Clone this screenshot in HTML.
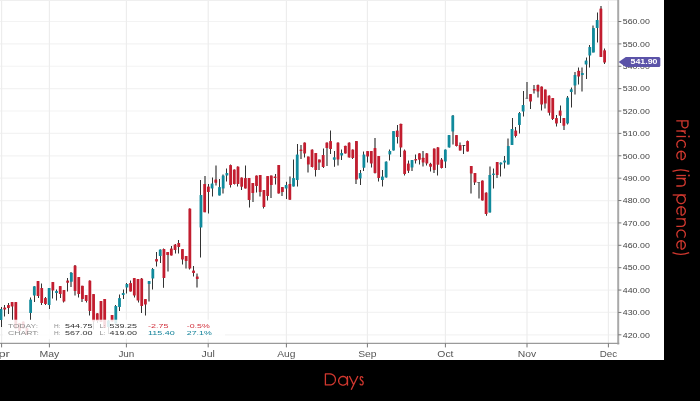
<!DOCTYPE html>
<html><head><meta charset="utf-8"><title>Chart</title>
<style>
html,body{margin:0;padding:0;background:#000;}
body{width:700px;height:401px;position:relative;overflow:hidden;font-family:"Liberation Sans",sans-serif;}
svg text{font-family:"Liberation Sans",sans-serif;}
.ax{font-size:6.3px;fill:#444;}
.mo{font-size:8.5px;fill:#555;}
.mk{font-size:6.4px;fill:#fff;font-weight:bold;}
.lb{font-size:6.2px;fill:#8e8e8e;}
.vl{font-size:6.2px;fill:#333;}
</style></head><body>
<svg width="664" height="360" viewBox="0 0 664 360" style="position:absolute;left:0;top:0;will-change:transform">
<rect width="664" height="360" fill="#fff"/>
<line x1="0" x2="618.2" y1="334.82" y2="334.82" stroke="#f3f3f3" stroke-width="1.2"/>
<line x1="0" x2="618.2" y1="312.44" y2="312.44" stroke="#f3f3f3" stroke-width="1.2"/>
<line x1="0" x2="618.2" y1="290.06" y2="290.06" stroke="#f3f3f3" stroke-width="1.2"/>
<line x1="0" x2="618.2" y1="267.68" y2="267.68" stroke="#f3f3f3" stroke-width="1.2"/>
<line x1="0" x2="618.2" y1="245.30" y2="245.30" stroke="#f3f3f3" stroke-width="1.2"/>
<line x1="0" x2="618.2" y1="222.92" y2="222.92" stroke="#f3f3f3" stroke-width="1.2"/>
<line x1="0" x2="618.2" y1="200.54" y2="200.54" stroke="#f3f3f3" stroke-width="1.2"/>
<line x1="0" x2="618.2" y1="178.16" y2="178.16" stroke="#f3f3f3" stroke-width="1.2"/>
<line x1="0" x2="618.2" y1="155.78" y2="155.78" stroke="#f3f3f3" stroke-width="1.2"/>
<line x1="0" x2="618.2" y1="133.40" y2="133.40" stroke="#f3f3f3" stroke-width="1.2"/>
<line x1="0" x2="618.2" y1="111.02" y2="111.02" stroke="#f3f3f3" stroke-width="1.2"/>
<line x1="0" x2="618.2" y1="88.64" y2="88.64" stroke="#f3f3f3" stroke-width="1.2"/>
<line x1="0" x2="618.2" y1="66.26" y2="66.26" stroke="#f3f3f3" stroke-width="1.2"/>
<line x1="0" x2="618.2" y1="43.88" y2="43.88" stroke="#f3f3f3" stroke-width="1.2"/>
<line x1="0" x2="618.2" y1="21.50" y2="21.50" stroke="#f3f3f3" stroke-width="1.2"/>
<line x1="0" x2="618.2" y1="-0.88" y2="-0.88" stroke="#f3f3f3" stroke-width="1.2"/>
<line x1="1.6" x2="1.6" y1="0" y2="343.4" stroke="#ededed" stroke-width="1.2"/>
<line x1="49.4" x2="49.4" y1="0" y2="343.4" stroke="#ededed" stroke-width="1.2"/>
<line x1="126.4" x2="126.4" y1="0" y2="343.4" stroke="#ededed" stroke-width="1.2"/>
<line x1="208.2" x2="208.2" y1="0" y2="343.4" stroke="#ededed" stroke-width="1.2"/>
<line x1="286.4" x2="286.4" y1="0" y2="343.4" stroke="#ededed" stroke-width="1.2"/>
<line x1="367.4" x2="367.4" y1="0" y2="343.4" stroke="#ededed" stroke-width="1.2"/>
<line x1="445.4" x2="445.4" y1="0" y2="343.4" stroke="#ededed" stroke-width="1.2"/>
<line x1="527" x2="527" y1="0" y2="343.4" stroke="#ededed" stroke-width="1.2"/>
<line x1="608.4" x2="608.4" y1="0" y2="343.4" stroke="#ededed" stroke-width="1.2"/>
<line x1="0" x2="618.2" y1="0.5" y2="0.5" stroke="#efefef" stroke-width="1"/>
<line x1="1.50" x2="1.50" y1="307.0" y2="327.0" stroke="#333" stroke-width="1"/>
<rect x="-0.40" y="309.0" width="2.8" height="11.00" rx="0.5" fill="#108a9c"/>
<line x1="4.50" x2="4.50" y1="305.0" y2="316.5" stroke="#333" stroke-width="1"/>
<rect x="3.30" y="307.5" width="2.8" height="2.00" rx="0.5" fill="#c21d2f"/>
<line x1="8.50" x2="8.50" y1="303.0" y2="314.0" stroke="#333" stroke-width="1"/>
<rect x="7.01" y="305.0" width="2.8" height="3.00" rx="0.5" fill="#c21d2f"/>
<line x1="12.50" x2="12.50" y1="302.0" y2="320.0" stroke="#333" stroke-width="1"/>
<rect x="10.71" y="302.0" width="2.8" height="4.50" rx="0.5" fill="#c21d2f"/>
<line x1="15.50" x2="15.50" y1="302.0" y2="328.5" stroke="#333" stroke-width="1"/>
<rect x="14.41" y="302.0" width="2.8" height="26.50" rx="0.5" fill="#c21d2f"/>
<line x1="19.50" x2="19.50" y1="323.0" y2="331.0" stroke="#333" stroke-width="1"/>
<rect x="18.12" y="323.0" width="2.8" height="8.00" rx="0.5" fill="#c21d2f"/>
<line x1="23.50" x2="23.50" y1="321.5" y2="328.5" stroke="#333" stroke-width="1"/>
<rect x="21.82" y="321.5" width="2.8" height="7.00" rx="0.5" fill="#c21d2f"/>
<line x1="26.50" x2="26.50" y1="328.0" y2="335.0" stroke="#333" stroke-width="1"/>
<rect x="25.52" y="328.0" width="2.8" height="7.00" rx="0.5" fill="#c21d2f"/>
<line x1="30.50" x2="30.50" y1="297.5" y2="320.0" stroke="#333" stroke-width="1"/>
<rect x="29.22" y="299.5" width="2.8" height="13.50" rx="0.5" fill="#108a9c"/>
<line x1="34.50" x2="34.50" y1="286.2" y2="302.0" stroke="#333" stroke-width="1"/>
<rect x="32.93" y="286.2" width="2.8" height="9.30" rx="0.5" fill="#108a9c"/>
<line x1="38.50" x2="38.50" y1="281.0" y2="298.0" stroke="#333" stroke-width="1"/>
<rect x="36.63" y="281.0" width="2.8" height="15.00" rx="0.5" fill="#c21d2f"/>
<line x1="41.50" x2="41.50" y1="283.5" y2="305.0" stroke="#333" stroke-width="1"/>
<rect x="40.33" y="288.0" width="2.8" height="15.00" rx="0.5" fill="#c21d2f"/>
<line x1="45.50" x2="45.50" y1="297.0" y2="305.0" stroke="#333" stroke-width="1"/>
<rect x="44.04" y="298.0" width="2.8" height="6.00" rx="0.5" fill="#c21d2f"/>
<line x1="49.50" x2="49.50" y1="288.0" y2="309.0" stroke="#333" stroke-width="1"/>
<rect x="47.74" y="288.0" width="2.8" height="17.00" rx="0.5" fill="#108a9c"/>
<line x1="52.50" x2="52.50" y1="282.0" y2="298.5" stroke="#333" stroke-width="1"/>
<rect x="51.44" y="282.0" width="2.8" height="8.50" rx="0.5" fill="#c21d2f"/>
<line x1="56.50" x2="56.50" y1="289.5" y2="300.5" stroke="#333" stroke-width="1"/>
<rect x="55.14" y="291.0" width="2.8" height="2.00" rx="0.5" fill="#108a9c"/>
<line x1="60.50" x2="60.50" y1="286.0" y2="298.0" stroke="#333" stroke-width="1"/>
<rect x="58.85" y="286.0" width="2.8" height="8.00" rx="0.5" fill="#c21d2f"/>
<line x1="63.50" x2="63.50" y1="290.0" y2="302.5" stroke="#333" stroke-width="1"/>
<rect x="62.55" y="290.0" width="2.8" height="11.50" rx="0.5" fill="#c21d2f"/>
<line x1="67.50" x2="67.50" y1="278.0" y2="291.5" stroke="#333" stroke-width="1"/>
<rect x="66.25" y="280.5" width="2.8" height="2.30" rx="0.5" fill="#c21d2f"/>
<line x1="71.00" x2="71.00" y1="272.0" y2="287.0" stroke="#6a6a6a" stroke-width="1.6"/>
<rect x="69.96" y="272.8" width="2.8" height="9.00" rx="0.5" fill="#108a9c"/>
<line x1="75.00" x2="75.00" y1="265.0" y2="295.5" stroke="#6a6a6a" stroke-width="1.6"/>
<rect x="73.66" y="265.5" width="2.8" height="25.50" rx="0.5" fill="#c21d2f"/>
<line x1="78.50" x2="78.50" y1="277.0" y2="297.5" stroke="#333" stroke-width="1"/>
<rect x="77.36" y="277.0" width="2.8" height="17.00" rx="0.5" fill="#c21d2f"/>
<line x1="82.00" x2="82.00" y1="285.8" y2="302.0" stroke="#6a6a6a" stroke-width="1.6"/>
<rect x="81.07" y="285.8" width="2.8" height="13.20" rx="0.5" fill="#c21d2f"/>
<line x1="86.50" x2="86.50" y1="295.0" y2="302.5" stroke="#333" stroke-width="1"/>
<rect x="84.77" y="295.0" width="2.8" height="6.00" rx="0.5" fill="#c21d2f"/>
<line x1="89.50" x2="89.50" y1="280.5" y2="315.5" stroke="#333" stroke-width="1"/>
<rect x="88.47" y="280.5" width="2.8" height="30.50" rx="0.5" fill="#c21d2f"/>
<line x1="93.50" x2="93.50" y1="294.0" y2="329.5" stroke="#333" stroke-width="1"/>
<rect x="92.17" y="294.0" width="2.8" height="27.50" rx="0.5" fill="#c21d2f"/>
<line x1="97.50" x2="97.50" y1="313.2" y2="323.0" stroke="#333" stroke-width="1"/>
<rect x="95.88" y="313.2" width="2.8" height="7.80" rx="0.5" fill="#c21d2f"/>
<line x1="100.50" x2="100.50" y1="301.0" y2="322.0" stroke="#333" stroke-width="1"/>
<rect x="99.58" y="301.0" width="2.8" height="21.00" rx="0.5" fill="#c21d2f"/>
<line x1="104.50" x2="104.50" y1="299.0" y2="328.0" stroke="#333" stroke-width="1"/>
<rect x="103.28" y="299.0" width="2.8" height="29.00" rx="0.5" fill="#c21d2f"/>
<line x1="108.50" x2="108.50" y1="320.0" y2="334.0" stroke="#333" stroke-width="1"/>
<rect x="106.99" y="320.5" width="2.8" height="6.50" rx="0.5" fill="#108a9c"/>
<line x1="112.50" x2="112.50" y1="315.0" y2="321.5" stroke="#333" stroke-width="1"/>
<rect x="110.69" y="315.0" width="2.8" height="6.50" rx="0.5" fill="#c21d2f"/>
<line x1="115.50" x2="115.50" y1="305.0" y2="323.5" stroke="#333" stroke-width="1"/>
<rect x="114.39" y="306.0" width="2.8" height="17.50" rx="0.5" fill="#108a9c"/>
<line x1="119.50" x2="119.50" y1="294.5" y2="311.0" stroke="#333" stroke-width="1"/>
<rect x="118.10" y="298.0" width="2.8" height="9.00" rx="0.5" fill="#108a9c"/>
<line x1="123.50" x2="123.50" y1="289.5" y2="299.0" stroke="#333" stroke-width="1"/>
<rect x="121.80" y="293.0" width="2.8" height="2.00" rx="0.5" fill="#108a9c"/>
<line x1="126.50" x2="126.50" y1="283.0" y2="293.5" stroke="#333" stroke-width="1"/>
<rect x="125.50" y="284.0" width="2.8" height="3.50" rx="0.5" fill="#108a9c"/>
<line x1="130.50" x2="130.50" y1="280.5" y2="291.5" stroke="#333" stroke-width="1"/>
<rect x="129.20" y="283.0" width="2.8" height="8.50" rx="0.5" fill="#c21d2f"/>
<line x1="134.50" x2="134.50" y1="278.0" y2="297.5" stroke="#333" stroke-width="1"/>
<rect x="132.91" y="278.0" width="2.8" height="17.50" rx="0.5" fill="#c21d2f"/>
<line x1="138.50" x2="138.50" y1="279.0" y2="302.5" stroke="#333" stroke-width="1"/>
<rect x="136.61" y="279.0" width="2.8" height="21.50" rx="0.5" fill="#c21d2f"/>
<line x1="141.50" x2="141.50" y1="278.0" y2="313.0" stroke="#333" stroke-width="1"/>
<rect x="140.31" y="278.5" width="2.8" height="27.50" rx="0.5" fill="#c21d2f"/>
<line x1="145.50" x2="145.50" y1="299.0" y2="315.5" stroke="#333" stroke-width="1"/>
<rect x="144.02" y="299.0" width="2.8" height="5.50" rx="0.5" fill="#c21d2f"/>
<line x1="149.00" x2="149.00" y1="281.0" y2="301.5" stroke="#6a6a6a" stroke-width="1.6"/>
<rect x="147.72" y="281.0" width="2.8" height="3.00" rx="0.5" fill="#108a9c"/>
<line x1="152.50" x2="152.50" y1="268.0" y2="289.5" stroke="#333" stroke-width="1"/>
<rect x="151.42" y="269.0" width="2.8" height="9.50" rx="0.5" fill="#108a9c"/>
<line x1="156.50" x2="156.50" y1="252.0" y2="266.5" stroke="#333" stroke-width="1"/>
<rect x="155.13" y="259.0" width="2.8" height="2.50" rx="0.5" fill="#c21d2f"/>
<line x1="160.50" x2="160.50" y1="249.5" y2="263.0" stroke="#333" stroke-width="1"/>
<rect x="158.83" y="249.5" width="2.8" height="6.50" rx="0.5" fill="#108a9c"/>
<line x1="163.50" x2="163.50" y1="248.5" y2="287.8" stroke="#333" stroke-width="1"/>
<rect x="162.53" y="249.0" width="2.8" height="29.00" rx="0.5" fill="#c21d2f"/>
<line x1="168.00" x2="168.00" y1="252.0" y2="271.5" stroke="#6a6a6a" stroke-width="1.6"/>
<rect x="166.23" y="252.0" width="2.8" height="3.00" rx="0.5" fill="#c21d2f"/>
<line x1="171.50" x2="171.50" y1="246.0" y2="255.5" stroke="#333" stroke-width="1"/>
<rect x="169.94" y="248.5" width="2.8" height="7.00" rx="0.5" fill="#c21d2f"/>
<line x1="175.50" x2="175.50" y1="244.0" y2="253.5" stroke="#333" stroke-width="1"/>
<rect x="173.64" y="244.5" width="2.8" height="5.50" rx="0.5" fill="#c21d2f"/>
<line x1="178.50" x2="178.50" y1="240.0" y2="253.5" stroke="#333" stroke-width="1"/>
<rect x="177.34" y="243.0" width="2.8" height="4.00" rx="0.5" fill="#c21d2f"/>
<line x1="182.50" x2="182.50" y1="249.0" y2="264.5" stroke="#333" stroke-width="1"/>
<rect x="181.05" y="249.0" width="2.8" height="10.50" rx="0.5" fill="#c21d2f"/>
<line x1="186.00" x2="186.00" y1="256.0" y2="268.5" stroke="#6a6a6a" stroke-width="1.6"/>
<rect x="184.75" y="256.0" width="2.8" height="5.00" rx="0.5" fill="#c21d2f"/>
<line x1="189.50" x2="189.50" y1="208.5" y2="269.5" stroke="#333" stroke-width="1"/>
<rect x="188.45" y="208.5" width="2.8" height="60.00" rx="0.5" fill="#c21d2f"/>
<line x1="193.50" x2="193.50" y1="266.0" y2="276.5" stroke="#333" stroke-width="1"/>
<rect x="192.16" y="270.5" width="2.8" height="2.50" rx="0.5" fill="#c21d2f"/>
<line x1="197.00" x2="197.00" y1="273.5" y2="287.5" stroke="#6a6a6a" stroke-width="1.6"/>
<rect x="195.86" y="276.5" width="2.8" height="2.50" rx="0.5" fill="#c21d2f"/>
<line x1="200.50" x2="200.50" y1="180.0" y2="257.5" stroke="#333" stroke-width="1"/>
<rect x="199.56" y="195.0" width="2.8" height="32.50" rx="0.5" fill="#108a9c"/>
<line x1="205.00" x2="205.00" y1="176.0" y2="212.2" stroke="#6a6a6a" stroke-width="1.6"/>
<rect x="203.26" y="184.0" width="2.8" height="28.20" rx="0.5" fill="#c21d2f"/>
<line x1="208.50" x2="208.50" y1="184.0" y2="213.5" stroke="#333" stroke-width="1"/>
<rect x="206.97" y="186.5" width="2.8" height="5.50" rx="0.5" fill="#c21d2f"/>
<line x1="212.50" x2="212.50" y1="177.5" y2="196.5" stroke="#333" stroke-width="1"/>
<rect x="210.67" y="183.5" width="2.8" height="5.00" rx="0.5" fill="#108a9c"/>
<line x1="216.00" x2="216.00" y1="165.5" y2="185.5" stroke="#6a6a6a" stroke-width="1.6"/>
<rect x="214.37" y="179.5" width="2.8" height="3.30" rx="0.5" fill="#c21d2f"/>
<line x1="219.50" x2="219.50" y1="179.0" y2="195.5" stroke="#333" stroke-width="1"/>
<rect x="218.08" y="187.0" width="2.8" height="8.50" rx="0.5" fill="#108a9c"/>
<line x1="223.00" x2="223.00" y1="174.5" y2="193.5" stroke="#6a6a6a" stroke-width="1.6"/>
<rect x="221.78" y="175.5" width="2.8" height="13.00" rx="0.5" fill="#108a9c"/>
<line x1="226.50" x2="226.50" y1="168.5" y2="181.5" stroke="#333" stroke-width="1"/>
<rect x="225.48" y="173.0" width="2.8" height="2.50" rx="0.5" fill="#108a9c"/>
<line x1="230.50" x2="230.50" y1="164.5" y2="187.5" stroke="#333" stroke-width="1"/>
<rect x="229.19" y="165.0" width="2.8" height="20.00" rx="0.5" fill="#c21d2f"/>
<line x1="234.50" x2="234.50" y1="169.5" y2="184.5" stroke="#333" stroke-width="1"/>
<rect x="232.89" y="169.5" width="2.8" height="14.50" rx="0.5" fill="#c21d2f"/>
<line x1="237.50" x2="237.50" y1="166.5" y2="186.5" stroke="#333" stroke-width="1"/>
<rect x="236.59" y="166.5" width="2.8" height="17.50" rx="0.5" fill="#c21d2f"/>
<line x1="241.50" x2="241.50" y1="177.5" y2="190.0" stroke="#333" stroke-width="1"/>
<rect x="240.29" y="177.5" width="2.8" height="9.30" rx="0.5" fill="#c21d2f"/>
<line x1="245.50" x2="245.50" y1="165.5" y2="188.5" stroke="#333" stroke-width="1"/>
<rect x="244.00" y="178.0" width="2.8" height="10.50" rx="0.5" fill="#c21d2f"/>
<line x1="249.50" x2="249.50" y1="178.0" y2="207.5" stroke="#333" stroke-width="1"/>
<rect x="247.70" y="178.0" width="2.8" height="22.00" rx="0.5" fill="#c21d2f"/>
<line x1="253.00" x2="253.00" y1="183.0" y2="202.0" stroke="#6a6a6a" stroke-width="1.6"/>
<rect x="251.40" y="183.0" width="2.8" height="10.00" rx="0.5" fill="#c21d2f"/>
<line x1="256.50" x2="256.50" y1="175.5" y2="192.5" stroke="#333" stroke-width="1"/>
<rect x="255.11" y="175.5" width="2.8" height="10.50" rx="0.5" fill="#c21d2f"/>
<line x1="260.00" x2="260.00" y1="175.0" y2="196.5" stroke="#6a6a6a" stroke-width="1.6"/>
<rect x="258.81" y="175.0" width="2.8" height="17.00" rx="0.5" fill="#c21d2f"/>
<line x1="263.50" x2="263.50" y1="190.0" y2="208.5" stroke="#333" stroke-width="1"/>
<rect x="262.51" y="190.0" width="2.8" height="17.00" rx="0.5" fill="#c21d2f"/>
<line x1="267.50" x2="267.50" y1="176.0" y2="200.5" stroke="#333" stroke-width="1"/>
<rect x="266.22" y="176.0" width="2.8" height="20.00" rx="0.5" fill="#c21d2f"/>
<line x1="271.00" x2="271.00" y1="175.5" y2="198.0" stroke="#6a6a6a" stroke-width="1.6"/>
<rect x="269.92" y="175.5" width="2.8" height="9.50" rx="0.5" fill="#c21d2f"/>
<line x1="275.50" x2="275.50" y1="174.0" y2="184.5" stroke="#333" stroke-width="1"/>
<rect x="273.62" y="176.5" width="2.8" height="1.50" rx="0.5" fill="#c21d2f"/>
<line x1="278.50" x2="278.50" y1="165.0" y2="193.5" stroke="#333" stroke-width="1"/>
<rect x="277.32" y="165.0" width="2.8" height="28.50" rx="0.5" fill="#c21d2f"/>
<line x1="282.00" x2="282.00" y1="187.0" y2="196.0" stroke="#6a6a6a" stroke-width="1.6"/>
<rect x="281.03" y="187.0" width="2.8" height="5.00" rx="0.5" fill="#c21d2f"/>
<line x1="286.50" x2="286.50" y1="181.8" y2="199.0" stroke="#333" stroke-width="1"/>
<rect x="284.73" y="185.0" width="2.8" height="3.50" rx="0.5" fill="#108a9c"/>
<line x1="290.00" x2="290.00" y1="176.5" y2="199.8" stroke="#6a6a6a" stroke-width="1.6"/>
<rect x="288.43" y="184.0" width="2.8" height="15.80" rx="0.5" fill="#c21d2f"/>
<line x1="293.50" x2="293.50" y1="159.5" y2="186.5" stroke="#333" stroke-width="1"/>
<rect x="292.14" y="178.0" width="2.8" height="8.50" rx="0.5" fill="#108a9c"/>
<line x1="297.50" x2="297.50" y1="144.0" y2="186.5" stroke="#333" stroke-width="1"/>
<rect x="295.84" y="154.5" width="2.8" height="25.50" rx="0.5" fill="#108a9c"/>
<line x1="301.00" x2="301.00" y1="145.0" y2="159.0" stroke="#6a6a6a" stroke-width="1.6"/>
<rect x="299.54" y="149.5" width="2.8" height="1.50" rx="0.5" fill="#c21d2f"/>
<line x1="304.50" x2="304.50" y1="142.5" y2="157.5" stroke="#333" stroke-width="1"/>
<rect x="303.25" y="142.5" width="2.8" height="11.00" rx="0.5" fill="#c21d2f"/>
<line x1="308.00" x2="308.00" y1="156.5" y2="172.5" stroke="#6a6a6a" stroke-width="1.6"/>
<rect x="306.95" y="156.5" width="2.8" height="8.00" rx="0.5" fill="#c21d2f"/>
<line x1="312.50" x2="312.50" y1="149.5" y2="167.5" stroke="#333" stroke-width="1"/>
<rect x="310.65" y="149.5" width="2.8" height="17.50" rx="0.5" fill="#c21d2f"/>
<line x1="315.50" x2="315.50" y1="153.0" y2="176.5" stroke="#333" stroke-width="1"/>
<rect x="314.36" y="153.0" width="2.8" height="17.00" rx="0.5" fill="#c21d2f"/>
<line x1="319.00" x2="319.00" y1="159.5" y2="170.0" stroke="#6a6a6a" stroke-width="1.6"/>
<rect x="318.06" y="159.5" width="2.8" height="3.00" rx="0.5" fill="#c21d2f"/>
<line x1="323.50" x2="323.50" y1="148.5" y2="168.0" stroke="#333" stroke-width="1"/>
<rect x="321.76" y="155.0" width="2.8" height="12.00" rx="0.5" fill="#c21d2f"/>
<line x1="327.00" x2="327.00" y1="142.5" y2="166.0" stroke="#6a6a6a" stroke-width="1.6"/>
<rect x="325.46" y="142.5" width="2.8" height="5.50" rx="0.5" fill="#c21d2f"/>
<line x1="330.50" x2="330.50" y1="130.5" y2="154.0" stroke="#333" stroke-width="1"/>
<rect x="329.17" y="141.0" width="2.8" height="8.00" rx="0.5" fill="#c21d2f"/>
<line x1="334.50" x2="334.50" y1="151.0" y2="166.8" stroke="#333" stroke-width="1"/>
<rect x="332.87" y="157.3" width="2.8" height="2.40" rx="0.5" fill="#108a9c"/>
<line x1="338.00" x2="338.00" y1="142.5" y2="165.5" stroke="#6a6a6a" stroke-width="1.6"/>
<rect x="336.57" y="142.5" width="2.8" height="17.00" rx="0.5" fill="#c21d2f"/>
<line x1="341.50" x2="341.50" y1="149.5" y2="160.0" stroke="#333" stroke-width="1"/>
<rect x="340.28" y="153.0" width="2.8" height="2.50" rx="0.5" fill="#108a9c"/>
<line x1="345.50" x2="345.50" y1="145.8" y2="153.5" stroke="#333" stroke-width="1"/>
<rect x="343.98" y="145.8" width="2.8" height="7.70" rx="0.5" fill="#c21d2f"/>
<line x1="349.50" x2="349.50" y1="142.5" y2="157.5" stroke="#333" stroke-width="1"/>
<rect x="347.68" y="142.5" width="2.8" height="15.00" rx="0.5" fill="#c21d2f"/>
<line x1="352.50" x2="352.50" y1="149.5" y2="159.0" stroke="#333" stroke-width="1"/>
<rect x="351.38" y="149.5" width="2.8" height="8.50" rx="0.5" fill="#c21d2f"/>
<line x1="356.00" x2="356.00" y1="141.0" y2="184.0" stroke="#6a6a6a" stroke-width="1.6"/>
<rect x="355.09" y="141.0" width="2.8" height="38.50" rx="0.5" fill="#c21d2f"/>
<line x1="360.50" x2="360.50" y1="170.0" y2="185.0" stroke="#333" stroke-width="1"/>
<rect x="358.79" y="173.0" width="2.8" height="5.50" rx="0.5" fill="#108a9c"/>
<line x1="363.50" x2="363.50" y1="151.5" y2="171.0" stroke="#333" stroke-width="1"/>
<rect x="362.49" y="154.5" width="2.8" height="13.30" rx="0.5" fill="#108a9c"/>
<line x1="367.50" x2="367.50" y1="151.0" y2="162.5" stroke="#333" stroke-width="1"/>
<rect x="366.20" y="151.0" width="2.8" height="5.50" rx="0.5" fill="#c21d2f"/>
<line x1="371.50" x2="371.50" y1="151.0" y2="167.5" stroke="#333" stroke-width="1"/>
<rect x="369.90" y="151.0" width="2.8" height="12.50" rx="0.5" fill="#c21d2f"/>
<line x1="375.00" x2="375.00" y1="138.0" y2="173.5" stroke="#6a6a6a" stroke-width="1.6"/>
<rect x="373.60" y="148.0" width="2.8" height="25.00" rx="0.5" fill="#c21d2f"/>
<line x1="378.50" x2="378.50" y1="156.0" y2="181.5" stroke="#333" stroke-width="1"/>
<rect x="377.31" y="156.0" width="2.8" height="22.00" rx="0.5" fill="#c21d2f"/>
<line x1="382.50" x2="382.50" y1="170.0" y2="186.5" stroke="#333" stroke-width="1"/>
<rect x="381.01" y="176.5" width="2.8" height="3.50" rx="0.5" fill="#108a9c"/>
<line x1="386.50" x2="386.50" y1="161.5" y2="177.5" stroke="#333" stroke-width="1"/>
<rect x="384.71" y="161.5" width="2.8" height="16.00" rx="0.5" fill="#108a9c"/>
<line x1="389.50" x2="389.50" y1="149.5" y2="160.5" stroke="#333" stroke-width="1"/>
<rect x="388.42" y="151.0" width="2.8" height="3.50" rx="0.5" fill="#108a9c"/>
<line x1="393.50" x2="393.50" y1="131.0" y2="150.5" stroke="#333" stroke-width="1"/>
<rect x="392.12" y="131.0" width="2.8" height="19.50" rx="0.5" fill="#108a9c"/>
<line x1="397.50" x2="397.50" y1="125.0" y2="143.5" stroke="#333" stroke-width="1"/>
<rect x="395.82" y="130.5" width="2.8" height="6.50" rx="0.5" fill="#c21d2f"/>
<line x1="400.50" x2="400.50" y1="123.8" y2="157.0" stroke="#333" stroke-width="1"/>
<rect x="399.52" y="123.8" width="2.8" height="23.70" rx="0.5" fill="#c21d2f"/>
<line x1="404.50" x2="404.50" y1="149.5" y2="175.5" stroke="#333" stroke-width="1"/>
<rect x="403.23" y="150.5" width="2.8" height="23.50" rx="0.5" fill="#c21d2f"/>
<line x1="408.50" x2="408.50" y1="160.5" y2="173.0" stroke="#333" stroke-width="1"/>
<rect x="406.93" y="163.5" width="2.8" height="7.30" rx="0.5" fill="#c21d2f"/>
<line x1="412.00" x2="412.00" y1="160.0" y2="171.0" stroke="#6a6a6a" stroke-width="1.6"/>
<rect x="410.63" y="160.0" width="2.8" height="7.50" rx="0.5" fill="#108a9c"/>
<line x1="415.50" x2="415.50" y1="154.5" y2="163.5" stroke="#333" stroke-width="1"/>
<rect x="414.34" y="159.0" width="2.8" height="1.50" rx="0.5" fill="#c21d2f"/>
<line x1="419.50" x2="419.50" y1="153.2" y2="164.5" stroke="#333" stroke-width="1"/>
<rect x="418.04" y="153.2" width="2.8" height="6.60" rx="0.5" fill="#c21d2f"/>
<line x1="423.00" x2="423.00" y1="151.0" y2="166.5" stroke="#6a6a6a" stroke-width="1.6"/>
<rect x="421.74" y="157.8" width="2.8" height="4.70" rx="0.5" fill="#c21d2f"/>
<line x1="426.50" x2="426.50" y1="153.2" y2="165.5" stroke="#333" stroke-width="1"/>
<rect x="425.44" y="153.2" width="2.8" height="10.30" rx="0.5" fill="#c21d2f"/>
<line x1="430.50" x2="430.50" y1="162.8" y2="171.5" stroke="#333" stroke-width="1"/>
<rect x="429.15" y="163.8" width="2.8" height="3.00" rx="0.5" fill="#c21d2f"/>
<line x1="434.00" x2="434.00" y1="148.5" y2="173.0" stroke="#6a6a6a" stroke-width="1.6"/>
<rect x="432.85" y="148.5" width="2.8" height="21.50" rx="0.5" fill="#c21d2f"/>
<line x1="437.50" x2="437.50" y1="147.2" y2="175.5" stroke="#333" stroke-width="1"/>
<rect x="436.55" y="147.2" width="2.8" height="17.60" rx="0.5" fill="#c21d2f"/>
<line x1="441.50" x2="441.50" y1="158.0" y2="168.5" stroke="#333" stroke-width="1"/>
<rect x="440.26" y="159.5" width="2.8" height="8.50" rx="0.5" fill="#c21d2f"/>
<line x1="445.50" x2="445.50" y1="149.5" y2="168.0" stroke="#333" stroke-width="1"/>
<rect x="443.96" y="149.5" width="2.8" height="12.00" rx="0.5" fill="#108a9c"/>
<line x1="449.50" x2="449.50" y1="135.0" y2="147.5" stroke="#333" stroke-width="1"/>
<rect x="447.66" y="135.0" width="2.8" height="12.50" rx="0.5" fill="#108a9c"/>
<line x1="453.00" x2="453.00" y1="115.0" y2="144.5" stroke="#6a6a6a" stroke-width="1.6"/>
<rect x="451.37" y="115.5" width="2.8" height="16.00" rx="0.5" fill="#108a9c"/>
<line x1="456.50" x2="456.50" y1="135.0" y2="146.5" stroke="#333" stroke-width="1"/>
<rect x="455.07" y="135.0" width="2.8" height="11.00" rx="0.5" fill="#c21d2f"/>
<line x1="460.00" x2="460.00" y1="142.5" y2="150.5" stroke="#6a6a6a" stroke-width="1.6"/>
<rect x="458.77" y="145.0" width="2.8" height="5.50" rx="0.5" fill="#c21d2f"/>
<line x1="463.50" x2="463.50" y1="145.0" y2="154.0" stroke="#333" stroke-width="1"/>
<rect x="462.48" y="145.0" width="2.8" height="0.9" fill="#333"/>
<line x1="467.50" x2="467.50" y1="140.5" y2="151.5" stroke="#333" stroke-width="1"/>
<rect x="466.18" y="141.0" width="2.8" height="10.50" rx="0.5" fill="#c21d2f"/>
<line x1="471.00" x2="471.00" y1="166.0" y2="193.5" stroke="#6a6a6a" stroke-width="1.6"/>
<rect x="469.88" y="166.0" width="2.8" height="7.50" rx="0.5" fill="#c21d2f"/>
<line x1="474.50" x2="474.50" y1="173.0" y2="185.0" stroke="#333" stroke-width="1"/>
<rect x="473.58" y="173.0" width="2.8" height="9.50" rx="0.5" fill="#c21d2f"/>
<line x1="479.00" x2="479.00" y1="182.0" y2="198.5" stroke="#6a6a6a" stroke-width="1.6"/>
<rect x="477.29" y="182.0" width="2.8" height="0.9" fill="#6a6a6a"/>
<line x1="482.50" x2="482.50" y1="180.5" y2="200.5" stroke="#333" stroke-width="1"/>
<rect x="480.99" y="180.5" width="2.8" height="20.00" rx="0.5" fill="#c21d2f"/>
<line x1="486.50" x2="486.50" y1="192.5" y2="215.8" stroke="#333" stroke-width="1"/>
<rect x="484.69" y="192.5" width="2.8" height="21.50" rx="0.5" fill="#c21d2f"/>
<line x1="490.00" x2="490.00" y1="166.5" y2="212.5" stroke="#6a6a6a" stroke-width="1.6"/>
<rect x="488.40" y="175.0" width="2.8" height="37.50" rx="0.5" fill="#108a9c"/>
<line x1="493.50" x2="493.50" y1="168.5" y2="188.5" stroke="#333" stroke-width="1"/>
<rect x="492.10" y="173.5" width="2.8" height="1.50" rx="0.5" fill="#108a9c"/>
<line x1="497.00" x2="497.00" y1="162.0" y2="178.0" stroke="#6a6a6a" stroke-width="1.6"/>
<rect x="495.80" y="162.0" width="2.8" height="13.00" rx="0.5" fill="#c21d2f"/>
<line x1="500.50" x2="500.50" y1="162.5" y2="176.5" stroke="#333" stroke-width="1"/>
<rect x="499.50" y="162.5" width="2.8" height="2.00" rx="0.5" fill="#108a9c"/>
<line x1="504.50" x2="504.50" y1="156.0" y2="168.5" stroke="#333" stroke-width="1"/>
<rect x="503.21" y="160.5" width="2.8" height="2.00" rx="0.5" fill="#108a9c"/>
<line x1="508.00" x2="508.00" y1="138.5" y2="164.5" stroke="#6a6a6a" stroke-width="1.6"/>
<rect x="506.91" y="146.0" width="2.8" height="18.50" rx="0.5" fill="#108a9c"/>
<line x1="512.50" x2="512.50" y1="118.0" y2="145.0" stroke="#333" stroke-width="1"/>
<rect x="510.61" y="129.0" width="2.8" height="16.00" rx="0.5" fill="#108a9c"/>
<line x1="515.50" x2="515.50" y1="127.0" y2="137.5" stroke="#333" stroke-width="1"/>
<rect x="514.32" y="130.5" width="2.8" height="5.50" rx="0.5" fill="#c21d2f"/>
<line x1="519.50" x2="519.50" y1="112.0" y2="133.5" stroke="#333" stroke-width="1"/>
<rect x="518.02" y="113.0" width="2.8" height="12.00" rx="0.5" fill="#108a9c"/>
<line x1="523.50" x2="523.50" y1="91.0" y2="116.5" stroke="#333" stroke-width="1"/>
<rect x="521.72" y="105.0" width="2.8" height="6.60" rx="0.5" fill="#108a9c"/>
<line x1="527.00" x2="527.00" y1="82.0" y2="98.5" stroke="#6a6a6a" stroke-width="1.6"/>
<rect x="525.43" y="97.8" width="2.8" height="0.9" fill="#6a6a6a"/>
<line x1="530.50" x2="530.50" y1="94.0" y2="109.0" stroke="#333" stroke-width="1"/>
<rect x="529.13" y="94.0" width="2.8" height="7.50" rx="0.5" fill="#c21d2f"/>
<line x1="534.00" x2="534.00" y1="85.0" y2="93.5" stroke="#6a6a6a" stroke-width="1.6"/>
<rect x="532.83" y="89.0" width="2.8" height="1.50" rx="0.5" fill="#c21d2f"/>
<line x1="538.00" x2="538.00" y1="84.5" y2="97.5" stroke="#6a6a6a" stroke-width="1.6"/>
<rect x="536.53" y="85.0" width="2.8" height="6.50" rx="0.5" fill="#c21d2f"/>
<line x1="541.50" x2="541.50" y1="86.5" y2="110.5" stroke="#333" stroke-width="1"/>
<rect x="540.24" y="86.5" width="2.8" height="18.00" rx="0.5" fill="#c21d2f"/>
<line x1="545.00" x2="545.00" y1="89.5" y2="108.5" stroke="#6a6a6a" stroke-width="1.6"/>
<rect x="543.94" y="89.5" width="2.8" height="14.00" rx="0.5" fill="#c21d2f"/>
<line x1="549.50" x2="549.50" y1="95.5" y2="115.5" stroke="#333" stroke-width="1"/>
<rect x="547.64" y="95.5" width="2.8" height="17.30" rx="0.5" fill="#c21d2f"/>
<line x1="552.50" x2="552.50" y1="98.0" y2="120.0" stroke="#333" stroke-width="1"/>
<rect x="551.35" y="98.0" width="2.8" height="21.00" rx="0.5" fill="#c21d2f"/>
<line x1="556.50" x2="556.50" y1="115.0" y2="126.5" stroke="#333" stroke-width="1"/>
<rect x="555.05" y="118.0" width="2.8" height="5.50" rx="0.5" fill="#c21d2f"/>
<line x1="560.50" x2="560.50" y1="105.5" y2="123.0" stroke="#333" stroke-width="1"/>
<rect x="558.75" y="110.5" width="2.8" height="5.20" rx="0.5" fill="#c21d2f"/>
<line x1="564.00" x2="564.00" y1="118.0" y2="130.0" stroke="#6a6a6a" stroke-width="1.6"/>
<rect x="562.46" y="118.0" width="2.8" height="7.80" rx="0.5" fill="#c21d2f"/>
<line x1="567.50" x2="567.50" y1="96.0" y2="124.5" stroke="#333" stroke-width="1"/>
<rect x="566.16" y="97.5" width="2.8" height="26.00" rx="0.5" fill="#108a9c"/>
<line x1="571.50" x2="571.50" y1="87.5" y2="107.5" stroke="#333" stroke-width="1"/>
<rect x="569.86" y="89.3" width="2.8" height="2.60" rx="0.5" fill="#108a9c"/>
<line x1="575.00" x2="575.00" y1="72.0" y2="94.5" stroke="#6a6a6a" stroke-width="1.6"/>
<rect x="573.57" y="75.0" width="2.8" height="10.50" rx="0.5" fill="#108a9c"/>
<line x1="578.50" x2="578.50" y1="67.5" y2="84.5" stroke="#333" stroke-width="1"/>
<rect x="577.27" y="70.7" width="2.8" height="5.80" rx="0.5" fill="#c21d2f"/>
<line x1="582.00" x2="582.00" y1="67.5" y2="91.5" stroke="#6a6a6a" stroke-width="1.6"/>
<rect x="580.97" y="73.0" width="2.8" height="2.00" rx="0.5" fill="#108a9c"/>
<line x1="586.50" x2="586.50" y1="57.5" y2="79.0" stroke="#333" stroke-width="1"/>
<rect x="584.67" y="60.5" width="2.8" height="4.00" rx="0.5" fill="#108a9c"/>
<line x1="589.50" x2="589.50" y1="45.0" y2="67.5" stroke="#333" stroke-width="1"/>
<rect x="588.38" y="47.0" width="2.8" height="8.50" rx="0.5" fill="#108a9c"/>
<line x1="593.00" x2="593.00" y1="25.5" y2="52.5" stroke="#6a6a6a" stroke-width="1.6"/>
<rect x="592.08" y="28.0" width="2.8" height="24.50" rx="0.5" fill="#108a9c"/>
<line x1="597.50" x2="597.50" y1="12.5" y2="42.5" stroke="#333" stroke-width="1"/>
<rect x="595.78" y="20.0" width="2.8" height="8.00" rx="0.5" fill="#108a9c"/>
<line x1="601.00" x2="601.00" y1="6.0" y2="57.0" stroke="#6a6a6a" stroke-width="1.6"/>
<rect x="599.49" y="8.5" width="2.8" height="48.50" rx="0.5" fill="#c21d2f"/>
<line x1="604.50" x2="604.50" y1="48.5" y2="64.0" stroke="#333" stroke-width="1"/>
<rect x="603.19" y="50.2" width="2.8" height="12.30" rx="0.5" fill="#c21d2f"/>
<rect x="3" y="319.7" width="222" height="19.3" fill="#fff" fill-opacity="0.85"/>
<line x1="618.2" x2="618.2" y1="0" y2="344.4" stroke="#a9a9a9" stroke-width="2"/>
<line x1="0" x2="619.2" y1="343.4" y2="343.4" stroke="#9a9a9a" stroke-width="1.3"/>
<line x1="618.2" x2="621.4000000000001" y1="334.82" y2="334.82" stroke="#777" stroke-width="1"/>
<text x="622.8" y="337.57" class="ax" textLength="27" lengthAdjust="spacingAndGlyphs">420.00</text>
<line x1="618.2" x2="621.4000000000001" y1="312.44" y2="312.44" stroke="#777" stroke-width="1"/>
<text x="622.8" y="315.19" class="ax" textLength="27" lengthAdjust="spacingAndGlyphs">430.00</text>
<line x1="618.2" x2="621.4000000000001" y1="290.06" y2="290.06" stroke="#777" stroke-width="1"/>
<text x="622.8" y="292.81" class="ax" textLength="27" lengthAdjust="spacingAndGlyphs">440.00</text>
<line x1="618.2" x2="621.4000000000001" y1="267.68" y2="267.68" stroke="#777" stroke-width="1"/>
<text x="622.8" y="270.43" class="ax" textLength="27" lengthAdjust="spacingAndGlyphs">450.00</text>
<line x1="618.2" x2="621.4000000000001" y1="245.30" y2="245.30" stroke="#777" stroke-width="1"/>
<text x="622.8" y="248.05" class="ax" textLength="27" lengthAdjust="spacingAndGlyphs">460.00</text>
<line x1="618.2" x2="621.4000000000001" y1="222.92" y2="222.92" stroke="#777" stroke-width="1"/>
<text x="622.8" y="225.67" class="ax" textLength="27" lengthAdjust="spacingAndGlyphs">470.00</text>
<line x1="618.2" x2="621.4000000000001" y1="200.54" y2="200.54" stroke="#777" stroke-width="1"/>
<text x="622.8" y="203.29" class="ax" textLength="27" lengthAdjust="spacingAndGlyphs">480.00</text>
<line x1="618.2" x2="621.4000000000001" y1="178.16" y2="178.16" stroke="#777" stroke-width="1"/>
<text x="622.8" y="180.91" class="ax" textLength="27" lengthAdjust="spacingAndGlyphs">490.00</text>
<line x1="618.2" x2="621.4000000000001" y1="155.78" y2="155.78" stroke="#777" stroke-width="1"/>
<text x="622.8" y="158.53" class="ax" textLength="27" lengthAdjust="spacingAndGlyphs">500.00</text>
<line x1="618.2" x2="621.4000000000001" y1="133.40" y2="133.40" stroke="#777" stroke-width="1"/>
<text x="622.8" y="136.15" class="ax" textLength="27" lengthAdjust="spacingAndGlyphs">510.00</text>
<line x1="618.2" x2="621.4000000000001" y1="111.02" y2="111.02" stroke="#777" stroke-width="1"/>
<text x="622.8" y="113.77" class="ax" textLength="27" lengthAdjust="spacingAndGlyphs">520.00</text>
<line x1="618.2" x2="621.4000000000001" y1="88.64" y2="88.64" stroke="#777" stroke-width="1"/>
<text x="622.8" y="91.39" class="ax" textLength="27" lengthAdjust="spacingAndGlyphs">530.00</text>
<line x1="618.2" x2="621.4000000000001" y1="66.26" y2="66.26" stroke="#777" stroke-width="1"/>
<text x="622.8" y="69.01" class="ax" textLength="27" lengthAdjust="spacingAndGlyphs">540.00</text>
<line x1="618.2" x2="621.4000000000001" y1="43.88" y2="43.88" stroke="#777" stroke-width="1"/>
<text x="622.8" y="46.63" class="ax" textLength="27" lengthAdjust="spacingAndGlyphs">550.00</text>
<line x1="618.2" x2="621.4000000000001" y1="21.50" y2="21.50" stroke="#777" stroke-width="1"/>
<text x="622.8" y="24.25" class="ax" textLength="27" lengthAdjust="spacingAndGlyphs">560.00</text>
<line x1="1.6" x2="1.6" y1="343.4" y2="347.4" stroke="#777" stroke-width="1"/>
<text x="-10.2" y="357" class="mo" textLength="20" lengthAdjust="spacingAndGlyphs">Apr</text>
<line x1="49.4" x2="49.4" y1="343.4" y2="347.4" stroke="#777" stroke-width="1"/>
<text x="39.50" y="357" class="mo" textLength="19.8" lengthAdjust="spacingAndGlyphs">May</text>
<line x1="126.4" x2="126.4" y1="343.4" y2="347.4" stroke="#777" stroke-width="1"/>
<text x="118.40" y="357" class="mo" textLength="16" lengthAdjust="spacingAndGlyphs">Jun</text>
<line x1="208.2" x2="208.2" y1="343.4" y2="347.4" stroke="#777" stroke-width="1"/>
<text x="201.50" y="357" class="mo" textLength="13.4" lengthAdjust="spacingAndGlyphs">Jul</text>
<line x1="286.4" x2="286.4" y1="343.4" y2="347.4" stroke="#777" stroke-width="1"/>
<text x="277.30" y="357" class="mo" textLength="18.2" lengthAdjust="spacingAndGlyphs">Aug</text>
<line x1="367.4" x2="367.4" y1="343.4" y2="347.4" stroke="#777" stroke-width="1"/>
<text x="358.20" y="357" class="mo" textLength="18.4" lengthAdjust="spacingAndGlyphs">Sep</text>
<line x1="445.4" x2="445.4" y1="343.4" y2="347.4" stroke="#777" stroke-width="1"/>
<text x="437.30" y="357" class="mo" textLength="16.2" lengthAdjust="spacingAndGlyphs">Oct</text>
<line x1="527" x2="527" y1="343.4" y2="347.4" stroke="#777" stroke-width="1"/>
<text x="517.80" y="357" class="mo" textLength="18.4" lengthAdjust="spacingAndGlyphs">Nov</text>
<line x1="608.4" x2="608.4" y1="343.4" y2="347.4" stroke="#777" stroke-width="1"/>
<text x="599.70" y="357" class="mo" textLength="17.4" lengthAdjust="spacingAndGlyphs">Dec</text>
<path d="M618.6 62.007800000000046 L625.8 57.10780000000005 L658.8 57.10780000000005 Q660.3 57.10780000000005 660.3 58.60780000000005 L660.3 65.40780000000005 Q660.3 66.90780000000005 658.8 66.90780000000005 L625.8 66.90780000000005 Z" fill="#5b53a8"/>
<text x="630.5" y="64.31" class="mk" textLength="27" lengthAdjust="spacingAndGlyphs">541.90</text>
<text x="8" y="328.4" class="lb" textLength="30" lengthAdjust="spacingAndGlyphs">TODAY:</text>
<text x="8" y="335.0" class="lb" textLength="31" lengthAdjust="spacingAndGlyphs">CHART:</text>
<text x="54" y="328.4" class="lb" textLength="6.5" lengthAdjust="spacingAndGlyphs">H:</text>
<text x="65" y="328.4" class="vl" textLength="27.5" lengthAdjust="spacingAndGlyphs">544.75</text>
<text x="99.5" y="328.4" class="lb" textLength="6" lengthAdjust="spacingAndGlyphs">L:</text>
<text x="109.5" y="328.4" class="vl" textLength="27.5" lengthAdjust="spacingAndGlyphs">539.25</text>
<text x="148" y="328.4" class="vl" style="fill:#d2343f" textLength="20.5" lengthAdjust="spacingAndGlyphs">-2.75</text>
<text x="186.8" y="328.4" class="vl" style="fill:#d2343f" textLength="23" lengthAdjust="spacingAndGlyphs">-0.5%</text>
<text x="54" y="335.0" class="lb" textLength="6.5" lengthAdjust="spacingAndGlyphs">H:</text>
<text x="65" y="335.0" class="vl" textLength="27.5" lengthAdjust="spacingAndGlyphs">567.00</text>
<text x="99.5" y="335.0" class="lb" textLength="6" lengthAdjust="spacingAndGlyphs">L:</text>
<text x="109.5" y="335.0" class="vl" textLength="27.5" lengthAdjust="spacingAndGlyphs">419.00</text>
<text x="148" y="335.0" class="vl" style="fill:#17849b" textLength="26.8" lengthAdjust="spacingAndGlyphs">115.40</text>
<text x="186.8" y="335.0" class="vl" style="fill:#17849b" textLength="25" lengthAdjust="spacingAndGlyphs">27.1%</text>
</svg>
<svg width="700" height="401" viewBox="0 0 700 401" style="position:absolute;left:0;top:0">
<g transform="matrix(0 1 1 0 676.3 0)" fill="none" stroke="#d2382f" stroke-width="1.3" stroke-linejoin="round">
<path d="M120.8,0 L120.8,12.3 M120.8,11.65 L124.85,11.65 L124.85,11.65 L125.09,11.64 L125.32,11.61 L125.55,11.57 L125.78,11.50 L126.00,11.42 L126.21,11.32 L126.42,11.21 L126.61,11.08 L126.80,10.93 L126.97,10.77 L127.13,10.60 L127.28,10.41 L127.41,10.22 L127.52,10.01 L127.62,9.80 L127.70,9.58 L127.77,9.35 L127.81,9.12 L127.84,8.89 L127.85,8.65 L127.84,8.41 L127.81,8.18 L127.77,7.95 L127.70,7.72 L127.62,7.50 L127.52,7.29 L127.41,7.08 L127.28,6.89 L127.13,6.70 L126.97,6.53 L126.80,6.37 L126.61,6.22 L126.42,6.09 L126.21,5.98 L126.00,5.88 L125.78,5.80 L125.55,5.73 L125.32,5.69 L125.09,5.66 L124.85,5.65 L120.8,5.65"/>
<path d="M131.0,0 L131.0,9.6"/>
<path d="M131.0,5.0 C131.0,7.6 132.0,8.95 133.9,8.95"/>
<path d="M136.5,0 L136.5,9.6"/>
<path d="M147.66,7.64 L147.29,8.00 L146.89,8.32 L146.45,8.58 L145.98,8.78 L145.49,8.93 L144.99,9.02 L144.48,9.05 L143.97,9.02 L143.46,8.92 L142.98,8.77 L142.51,8.56 L142.07,8.29 L141.67,7.97 L141.31,7.61 L141.00,7.21 L140.73,6.77 L140.52,6.30 L140.37,5.81 L140.28,5.31 L140.25,4.80 L140.28,4.29 L140.37,3.79 L140.52,3.30 L140.73,2.83 L141.00,2.39 L141.31,1.99 L141.67,1.63 L142.07,1.31 L142.51,1.04 L142.98,0.83 L143.46,0.68 L143.97,0.58 L144.48,0.55 L144.99,0.58 L145.49,0.67 L145.98,0.82 L146.45,1.02 L146.89,1.28 L147.29,1.60 L147.66,1.96"/>
<path d="M151.25,4.8 L159.75,4.8 M159.75,4.80 L159.71,5.40 L159.58,5.98 L159.38,6.54 L159.10,7.06 L158.74,7.55 L158.33,7.97 L157.86,8.34 L157.34,8.63 L156.78,8.85 L156.20,8.99 L155.61,9.05 L155.01,9.02 L154.43,8.91 L153.86,8.72 L153.33,8.45 L152.84,8.11 L152.40,7.71 L152.02,7.24 L151.71,6.73 L151.48,6.18 L151.33,5.61 L151.26,5.02 L151.27,4.42 L151.36,3.83 L151.54,3.26 L151.79,2.72 L152.12,2.22 L152.52,1.77 L152.97,1.39 L153.47,1.07 L154.02,0.82 L154.59,0.65 L155.18,0.56 L155.77,0.56 L156.37,0.64 L156.94,0.80 L157.49,1.04 L157.99,1.36 L158.45,1.74 L158.85,2.18"/>
<path d="M171.4,-3.8 Q168.3,4.5 171.4,12.9"/>
<path d="M175.5,0 L175.5,9.6"/>
<path d="M178.5,0 L178.5,9.6 M178.5,5.0 C178.5,7.4 180.0,8.95 182.25,8.95 C184.5,8.95 186.0,7.4 186.0,5.0 L186.0,0"/>
<path d="M195.0,-3.6 L195.0,9.6"/>
<path d="M203.55,4.80 L203.50,5.46 L203.34,6.11 L203.09,6.73 L202.74,7.30 L202.31,7.81 L201.80,8.24 L201.23,8.59 L200.61,8.84 L199.96,9.00 L199.30,9.05 L198.64,9.00 L197.99,8.84 L197.37,8.59 L196.80,8.24 L196.29,7.81 L195.86,7.30 L195.51,6.73 L195.26,6.11 L195.10,5.46 L195.05,4.80 L195.10,4.14 L195.26,3.49 L195.51,2.87 L195.86,2.30 L196.29,1.79 L196.80,1.36 L197.37,1.01 L197.99,0.76 L198.64,0.60 L199.30,0.55 L199.96,0.60 L200.61,0.76 L201.23,1.01 L201.80,1.36 L202.31,1.79 L202.74,2.30 L203.09,2.87 L203.34,3.49 L203.50,4.14 L203.55,4.80"/>
<path d="M206.75,4.8 L215.25,4.8 M215.25,4.80 L215.21,5.40 L215.08,5.98 L214.88,6.54 L214.60,7.06 L214.24,7.55 L213.83,7.97 L213.36,8.34 L212.84,8.63 L212.28,8.85 L211.70,8.99 L211.11,9.05 L210.51,9.02 L209.93,8.91 L209.36,8.72 L208.83,8.45 L208.34,8.11 L207.90,7.71 L207.52,7.24 L207.21,6.73 L206.98,6.18 L206.83,5.61 L206.76,5.02 L206.77,4.42 L206.86,3.83 L207.04,3.26 L207.29,2.72 L207.62,2.22 L208.02,1.77 L208.47,1.39 L208.97,1.07 L209.52,0.82 L210.09,0.65 L210.68,0.56 L211.27,0.56 L211.87,0.64 L212.44,0.80 L212.99,1.04 L213.49,1.36 L213.95,1.74 L214.35,2.18"/>
<path d="M218.8,0 L218.8,9.6 M218.8,5.0 C218.8,7.4 220.3,8.95 222.55,8.95 C224.8,8.95 226.3,7.4 226.3,5.0 L226.3,0"/>
<path d="M237.46,7.64 L237.09,8.00 L236.69,8.32 L236.25,8.58 L235.78,8.78 L235.29,8.93 L234.79,9.02 L234.28,9.05 L233.77,9.02 L233.26,8.92 L232.78,8.77 L232.31,8.56 L231.87,8.29 L231.47,7.97 L231.11,7.61 L230.80,7.21 L230.53,6.77 L230.32,6.30 L230.17,5.81 L230.08,5.31 L230.05,4.80 L230.08,4.29 L230.17,3.79 L230.32,3.30 L230.53,2.83 L230.80,2.39 L231.11,1.99 L231.47,1.63 L231.87,1.31 L232.31,1.04 L232.78,0.83 L233.26,0.68 L233.77,0.58 L234.28,0.55 L234.79,0.58 L235.29,0.67 L235.78,0.82 L236.25,1.02 L236.69,1.28 L237.09,1.60 L237.46,1.96"/>
<path d="M240.75,4.8 L249.25,4.8 M249.25,4.80 L249.21,5.40 L249.08,5.98 L248.88,6.54 L248.60,7.06 L248.24,7.55 L247.83,7.97 L247.36,8.34 L246.84,8.63 L246.28,8.85 L245.70,8.99 L245.11,9.05 L244.51,9.02 L243.93,8.91 L243.36,8.72 L242.83,8.45 L242.34,8.11 L241.90,7.71 L241.52,7.24 L241.21,6.73 L240.98,6.18 L240.83,5.61 L240.76,5.02 L240.77,4.42 L240.86,3.83 L241.04,3.26 L241.29,2.72 L241.62,2.22 L242.02,1.77 L242.47,1.39 L242.97,1.07 L243.52,0.82 L244.09,0.65 L244.68,0.56 L245.27,0.56 L245.87,0.64 L246.44,0.80 L246.99,1.04 L247.49,1.36 L247.95,1.74 L248.35,2.18"/>
<path d="M252.6,-3.8 Q256.0,4.5 252.6,12.9"/>
<circle cx="136.5" cy="12.7" r="0.9" fill="#d2382f" stroke="none"/>
<circle cx="175.5" cy="12.7" r="0.9" fill="#d2382f" stroke="none"/>
</g>
<g transform="matrix(1 0 0 -1 0 385.6)" fill="none" stroke="#d2382f" stroke-width="1.3" stroke-linejoin="round">
<path d="M325.4,0.65 L329.9,0.65 L329.90,0.65 L330.33,0.67 L330.76,0.72 L331.18,0.80 L331.60,0.92 L332.00,1.07 L332.40,1.25 L332.77,1.46 L333.13,1.70 L333.47,1.97 L333.79,2.26 L334.08,2.58 L334.35,2.92 L334.59,3.28 L334.80,3.65 L334.98,4.05 L335.13,4.45 L335.25,4.87 L335.33,5.29 L335.38,5.72 L335.40,6.15 L335.38,6.58 L335.33,7.01 L335.25,7.43 L335.13,7.85 L334.98,8.25 L334.80,8.65 L334.59,9.02 L334.35,9.38 L334.08,9.72 L333.79,10.04 L333.47,10.33 L333.13,10.60 L332.77,10.84 L332.40,11.05 L332.00,11.23 L331.60,11.38 L331.18,11.50 L330.76,11.58 L330.33,11.63 L329.90,11.65 L325.4,11.65 Z"/>
<path d="M347.35,4.80 L347.30,5.48 L347.14,6.14 L346.88,6.77 L346.52,7.36 L346.08,7.88 L345.56,8.32 L344.97,8.68 L344.34,8.94 L343.68,9.10 L343.00,9.15 L342.32,9.10 L341.66,8.94 L341.03,8.68 L340.44,8.32 L339.92,7.88 L339.48,7.36 L339.12,6.77 L338.86,6.14 L338.70,5.48 L338.65,4.80 L338.70,4.12 L338.86,3.46 L339.12,2.83 L339.48,2.24 L339.92,1.72 L340.44,1.28 L341.03,0.92 L341.66,0.66 L342.32,0.50 L343.00,0.45 L343.68,0.50 L344.34,0.66 L344.97,0.92 L345.56,1.28 L346.08,1.72 L346.52,2.24 L346.88,2.83 L347.14,3.46 L347.30,4.12 L347.35,4.80"/>
<path d="M347.5,0 L347.5,9.6"/>
<path d="M349.4,9.6 L353.65,0.85 M357.9,9.6 L351.2,-4.2"/>
<path d="M363.0,7.5 C362.7,8.5 362.2,8.95 361.6,8.95 C360.7,8.95 360.2,8.2 360.2,7.4 C360.2,6.0 361.0,5.6 361.7,5.0 C362.5,4.4 363.2,3.9 363.2,2.9 C363.2,1.6 362.5,0.65 361.5,0.65 C360.6,0.65 360.1,1.2 359.9,2.0"/>
</g></svg>
</body></html>
